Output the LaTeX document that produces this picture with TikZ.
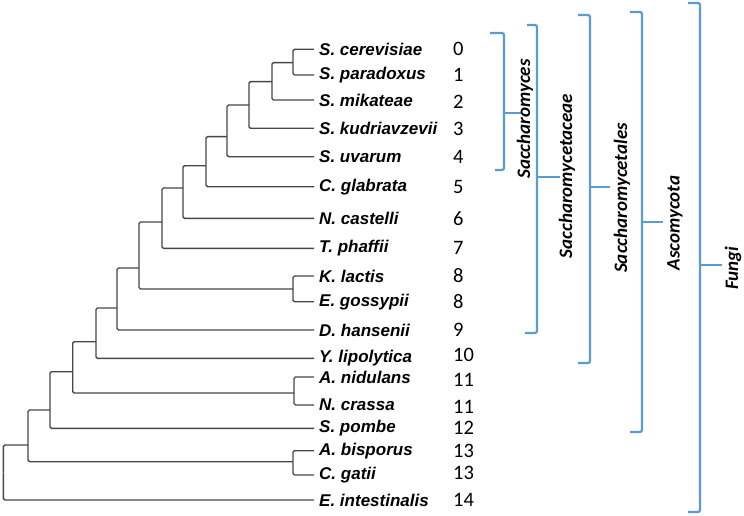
\documentclass[tikz,border=0pt]{standalone}
\usepackage{fontspec}
\setmainfont{Liberation Sans}
\newfontfamily\numfont{Carlito}
\definecolor{treegray}{RGB}{70,70,70}
\definecolor{brblue}{RGB}{91,155,213}
\begin{document}
\begin{tikzpicture}[x=1pt,y=-1pt,
  edge/.style={draw=treegray,line width=1.4pt,rounded corners=1.5pt},
  leaflabel/.style={anchor=west,inner sep=0pt,font=\fontsize{17}{17}\selectfont\bfseries\itshape},
  numlabel/.style={anchor=west,inner sep=0pt,font=\numfont\fontsize{20.5}{20.5}\selectfont},
  brace/.style={draw=brblue,line width=2.2pt,rounded corners=2pt},
  grouplabel/.style={rotate=90,inner sep=0pt,font=\numfont\fontsize{19}{19}\selectfont\bfseries\itshape}]
\useasboundingbox (0,0) rectangle (744,516);
% leaves
\foreach \n/\y in {0/49.3,1/75,2/100,3/128.3,4/156.7,5/186.7,6/218.3,7/248.3,8/276,9/301.7,10/330,11/358.3,12/377,13/405,14/428.3,15/450.7,16/475,17/500}
  \coordinate (l\n) at (314,\y);
% internal nodes
\coordinate (A) at (293,62.7);
\coordinate (B) at (272,81.7);
\coordinate (C) at (249,105);
\coordinate (D) at (227,136.7);
\coordinate (E) at (206,165.7);
\coordinate (Fn) at (183,188);
\coordinate (G) at (162,222);
\coordinate (KE) at (293,289);
\coordinate (H) at (139,268);
\coordinate (I) at (117,308);
\coordinate (J) at (96,341.7);
\coordinate (AN) at (294,393);
\coordinate (K) at (72.7,371.7);
\coordinate (L) at (50,410);
\coordinate (AC) at (293,461.7);
\coordinate (M) at (28,445);
\coordinate (R) at (3.3,472.5);
% edges
\foreach \p/\c in {A/l0,A/l1,B/A,B/l2,C/B,C/l3,D/C,D/l4,E/D,E/l5,Fn/E,Fn/l6,G/Fn,G/l7,KE/l8,KE/l9,H/G,H/KE,I/H,I/l10,J/I,J/l11,AN/l12,AN/l13,K/J,K/AN,L/K,L/l14,AC/l15,AC/l16,M/L,M/AC,R/M,R/l17}
  \draw[edge] (\p) |- (\c);
% leaf labels
\foreach \n/\t in {0/S. cerevisiae,1/S. paradoxus,2/S. mikateae,3/S. kudriavzevii,4/S. uvarum,5/C. glabrata,6/N. castelli,7/T. phaffii,8/K. lactis,9/E. gossypii,10/D. hansenii,11/Y. lipolytica,12/A. nidulans,13/N. crassa,14/S. pombe,15/A. bisporus,16/C. gatii,17/E. intestinalis}
  \node[leaflabel] (t\n) at ([xshift=5pt]l\n) {\t};
% numbers
\foreach \n/\y/\v in {0/49.3/0,1/75/1,2/102/2,3/129/3,4/157/4,5/187/5,6/218.3/6,7/248.3/7,8/276/8,9/302/8,10/330/9,11/355/10,12/380/11,13/407/11,14/428.3/12,15/450.7/13,16/473/13,17/500/14}
  \node[numlabel] (n\n) at (453,\y) {\v};
% brackets
\draw[brace] (490,33) -- (504,33) -- (504,170) -- (495,170);
\draw[brace] (504,113) -- (521,113);
\draw[brace] (527,25) -- (537,25) -- (537,333) -- (525,333);
\draw[brace] (537,177) -- (560,177);
\draw[brace] (578,15) -- (590,15) -- (590,363) -- (578,363);
\draw[brace] (590,187) -- (610,187);
\draw[brace] (630,12) -- (642,12) -- (642,432) -- (630,432);
\draw[brace] (642,222) -- (663,222);
\draw[brace] (688,3) -- (700,3) -- (700,512) -- (688,512);
\draw[brace] (700,265) -- (722,265);
% group labels
\node[grouplabel] (g1) at (525,119) {Saccharomyces};
\node[grouplabel] (g2) at (567,176) {Saccharomycetaceae};
\node[grouplabel] (g3) at (622,198) {Saccharomycetales};
\node[grouplabel] (g4) at (675,223) {Ascomycota};
\node[grouplabel] (g5) at (733,268) {Fungi};
\end{tikzpicture}
\end{document}
